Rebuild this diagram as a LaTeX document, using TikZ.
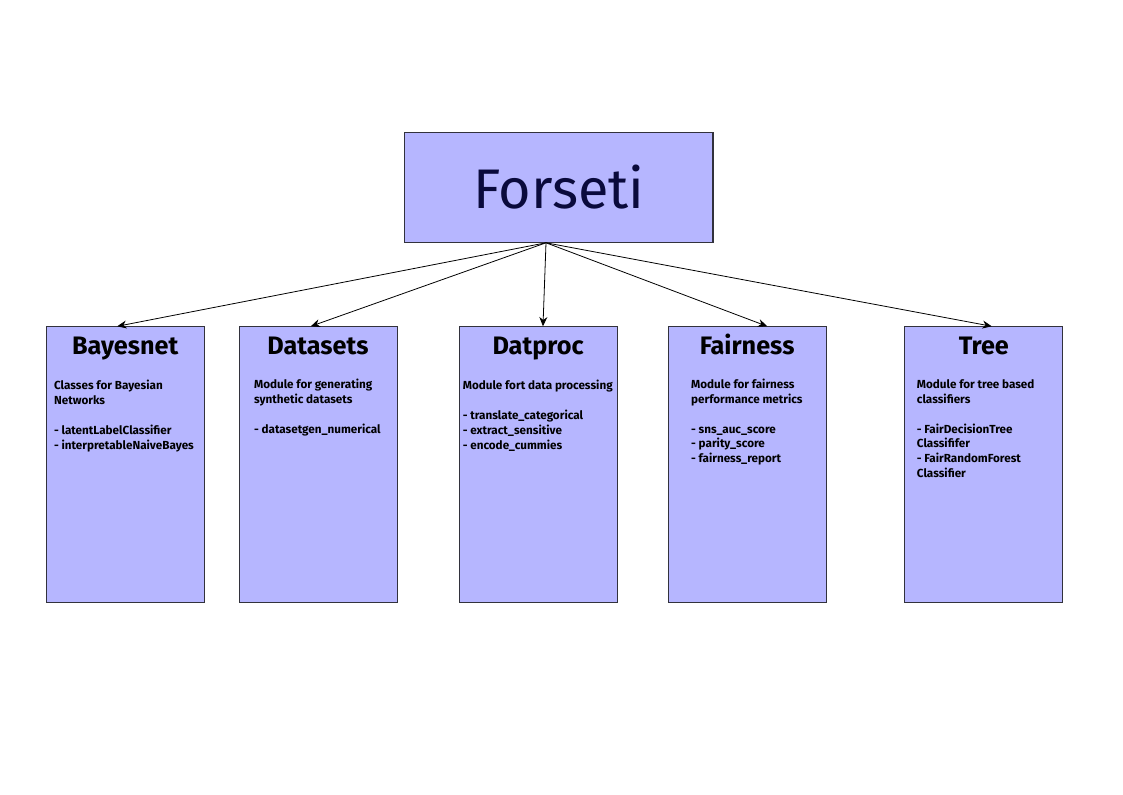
\documentclass[tikz,border=0pt]{standalone}
\usepackage{fontspec}
\setmainfont{Fira Sans}
\usetikzlibrary{arrows.meta,calc}

\definecolor{boxfill}{RGB}{182,182,255}
\definecolor{boxline}{RGB}{50,50,60}
\definecolor{rootink}{RGB}{10,10,60}

\tikzset{
  rootbox/.style={draw=boxline, fill=boxfill, line width=0.9pt, minimum width=8.15cm, minimum height=2.91cm, inner sep=0pt},
  modbox/.style={draw=boxline, fill=boxfill, line width=0.6pt, inner sep=0pt},
  link/.style={line width=0.6pt, -{Stealth[length=7pt,width=6pt]}}
}
\newcommand{\modtitle}[1]{{\centering\rule{0pt}{21pt}\fontsize{19}{22}\selectfont\bfseries #1\par}\vspace{14pt}}
\newcommand{\modtext}{\raggedright\fontsize{8.8}{11.25}\selectfont\bfseries}

\begin{document}
\begin{tikzpicture}
    \useasboundingbox (0,0) rectangle (29.7,-21.0);

    \node[rootbox] (forseti) at (14.78,-4.95) {\fontsize{42}{46}\selectfont\color{rootink}Forseti};

    \node[modbox] (bayes) at (3.31,-12.28) {\parbox[t][7.28cm][t]{4.18cm}{\modtitle{Bayesnet}\modtext\leftskip=0.21cm Classes for Bayesian\\Networks\\[11.25pt]- latentLabelClassifier\\- interpretableNaiveBayes}};
    \node[modbox] (datasets) at (8.41,-12.28) {\parbox[t][7.28cm][t]{4.18cm}{\modtitle{Datasets}\modtext\leftskip=0.4cm Module for generating\\synthetic datasets\\[11.25pt]- datasetgen\_numerical}};
    \node[modbox] (datproc) at (14.23,-12.28) {\parbox[t][7.28cm][t]{4.18cm}{\modtitle{Datproc}\modtext\leftskip=0.1cm Module fort data processing\\[11.25pt]- translate\_categorical\\- extract\_sensitive\\- encode\_cummies}};
    \node[modbox] (fairness) at (19.76,-12.28) {\parbox[t][7.28cm][t]{4.18cm}{\modtitle{Fairness}\modtext\leftskip=0.61cm Module for fairness\\performance metrics\\[11.25pt]- sns\_auc\_score\\- parity\_score\\- fairness\_report}};
    \node[modbox] (tree) at (26.02,-12.28) {\parbox[t][7.28cm][t]{4.18cm}{\modtitle{Tree}\modtext\leftskip=0.32cm Module for tree based\\classifiers\\[11.25pt]- FairDecisionTree\\Classififer\\- FairRandomForest\\Classifier}};

    \coordinate (apex) at ($(forseti.south)+(-0.34,0)$);

    \draw[link] (apex) -- ($(bayes.north)+(-0.21,0)$);
    \draw[link] (apex) -- ($(datasets.north)+(-0.19,0)$);
    \draw[link] (apex) -- ($(datproc.north)+(0.13,0)$);
    \draw[link] (apex) -- ($(fairness.north)+(0.53,0)$);
    \draw[link] (apex) -- ($(tree.north)+(0.21,0)$);
\end{tikzpicture}
\end{document}
